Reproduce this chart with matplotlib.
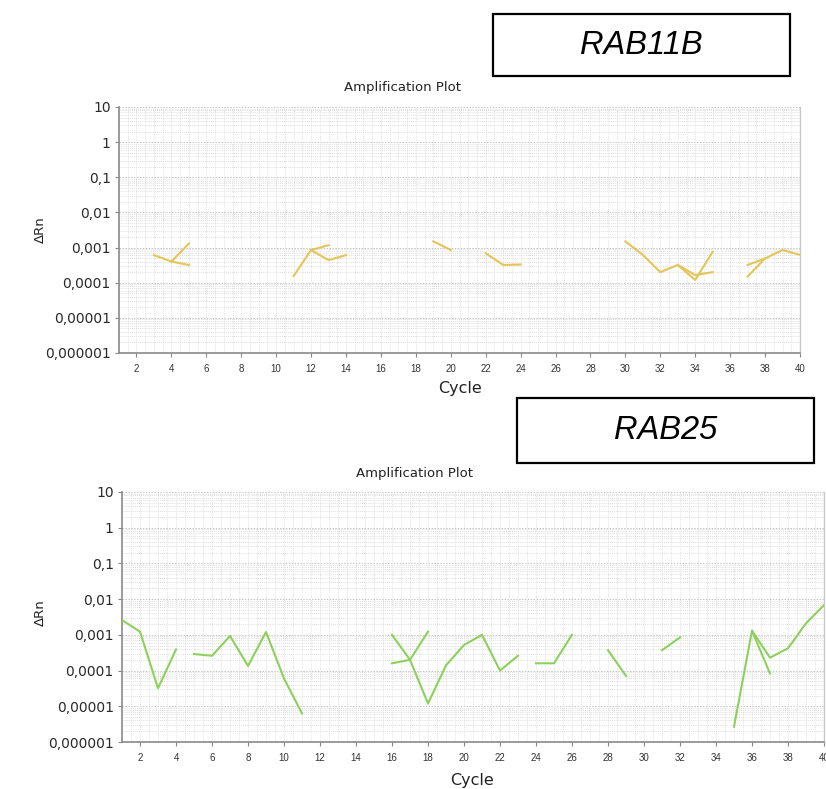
import numpy as np
import matplotlib
matplotlib.use("Agg")
import matplotlib.pyplot as plt
from matplotlib.patches import Rectangle
from matplotlib.ticker import FixedLocator, NullFormatter

# ---- RAB11B traces (cycle, delta Rn); each list pair is one visible trace piece
rab11b_cycles = [
    [3, 4, 5],
    [4, 5],
    [11, 12, 13],
    [12, 13, 14],
    [19, 20],
    [22, 23, 24],
    [30, 31, 32, 33, 34, 35],
    [33, 34, 35],
    [37, 38, 39, 40],
    [37, 38],
]
rab11b_values = [
    [6.1e-4, 4.0e-4, 1.3e-3],
    [4.0e-4, 3.2e-4],
    [1.55e-4, 8.5e-4, 1.17e-3],
    [8.5e-4, 4.4e-4, 6.1e-4],
    [1.5e-3, 8.5e-4],
    [6.9e-4, 3.2e-4, 3.3e-4],
    [1.5e-3, 6.2e-4, 2.0e-4, 3.2e-4, 1.2e-4, 7.6e-4],
    [3.2e-4, 1.65e-4, 2.0e-4],
    [3.2e-4, 4.9e-4, 8.5e-4, 6.2e-4],
    [1.5e-4, 4.9e-4],
]

# ---- RAB25 traces
rab25_cycles = [
    [1, 2, 3, 4],
    [5, 6, 7, 8, 9, 10, 11],
    [16, 17, 18, 19, 20, 21, 22, 23],
    [16, 17, 18],
    [24, 25, 26],
    [28, 29],
    [31, 32],
    [35, 36, 37, 38, 39, 40],
    [36, 37],
]
rab25_values = [
    [2.6e-3, 1.23e-3, 3.2e-5, 3.9e-4],
    [2.9e-4, 2.6e-4, 9.3e-4, 1.35e-4, 1.2e-3, 6.0e-5, 6.3e-6],
    [1.0e-3, 2.0e-4, 1.2e-5, 1.4e-4, 5.2e-4, 1.0e-3, 1.0e-4, 2.6e-4],
    [1.6e-4, 2.0e-4, 1.23e-3],
    [1.6e-4, 1.6e-4, 1.0e-3],
    [3.7e-4, 7.1e-5],
    [3.7e-4, 8.5e-4],
    [2.7e-6, 1.3e-3, 2.3e-4, 4.2e-4, 2.1e-3, 6.8e-3],
    [1.3e-3, 8.3e-5],
]

y_ticks = [1e1, 1e0, 1e-1, 1e-2, 1e-3, 1e-4, 1e-5, 1e-6]
y_tick_labels = ["10", "1", "0,1", "0,01", "0,001", "0,0001", "0,00001", "0,000001"]
x_ticks = list(range(2, 41, 2))

W, H = 826, 789
fig = plt.figure(figsize=(W / 100, H / 100), dpi=100)
fig.patch.set_facecolor("white")


def fx(px):
    return px / W


def fy(py):
    return 1 - py / H


def style_axes(ax):
    ax.set_yscale("log")
    ax.set_xlim(1, 40)
    ax.set_ylim(1e-6, 10)
    # dotted grid: minor log lines and half-cycle verticals
    minor_y = [m * 10.0 ** e for e in range(-6, 1) for m in range(2, 10)]
    for y in minor_y:
        ax.axhline(y, color="#d2d2d2", lw=0.6, ls=(0, (1, 1.5)), zorder=0)
    for y in y_ticks:
        ax.axhline(y, color="#c4c4c4", lw=0.7, ls=(0, (1.5, 1.5)), zorder=0)
    for x in np.arange(1.5, 40, 0.5):
        ax.axvline(x, color="#d8d8d8", lw=0.6, ls=(0, (1, 1.5)), zorder=0)
    ax.yaxis.set_major_locator(FixedLocator(y_ticks))
    ax.yaxis.set_minor_locator(FixedLocator([]))
    ax.yaxis.set_minor_formatter(NullFormatter())
    ax.set_yticklabels(y_tick_labels, fontsize=10, family="DejaVu Sans", color="#2a2a2a")
    ax.set_xticks(x_ticks)
    ax.set_xticklabels([str(t) for t in x_ticks], fontsize=7,
                       family="Liberation Sans", color="#333333")
    ax.tick_params(axis="both", direction="out", length=3, width=0.8, color="#888888")
    ax.tick_params(axis="y", pad=3)
    ax.tick_params(axis="x", pad=5)
    for side in ("left", "bottom"):
        ax.spines[side].set_color("#8a8a8a")
        ax.spines[side].set_linewidth(1.2)
    ax.spines["right"].set_color("#c8c8c8")
    ax.spines["right"].set_linewidth(1.0)
    ax.spines["top"].set_visible(False)
    ax.set_facecolor("white")


# ---- top panel (RAB11B)
ax1 = fig.add_axes([fx(119), fy(353), (800 - 119) / W, (353 - 107) / H])
style_axes(ax1)
for c, v in zip(rab11b_cycles, rab11b_values):
    ax1.plot(c, v, color="#E5C458", lw=1.5, solid_joinstyle="round", zorder=3)

# ---- bottom panel (RAB25)
ax2 = fig.add_axes([fx(122), fy(742), (824 - 122) / W, (742 - 492) / H])
style_axes(ax2)
for c, v in zip(rab25_cycles, rab25_values):
    ax2.plot(c, v, color="#8DD05C", lw=1.5, solid_joinstyle="round", zorder=3)

# titles and axis labels
for (tx, ty) in [(403, 88), (415, 474)]:
    fig.text(fx(tx), fy(ty), "Amplification Plot", ha="center", va="center",
             fontsize=9.5, family="DejaVu Sans", color="#222222")
for (tx, ty) in [(460, 389), (472, 780)]:
    fig.text(fx(tx), fy(ty), "Cycle", ha="center", va="center",
             fontsize=11.5, family="DejaVu Sans", color="#222222")
for (tx, ty) in [(40, 230), (40, 613)]:
    fig.text(fx(tx), fy(ty), "ΔRn", ha="center", va="center", rotation=90,
             fontsize=9.5, family="DejaVu Sans", color="#222222")

# gene name boxes
for (x0, y0, x1, y1, name) in [(493, 14, 790, 76, "RAB11B"),
                               (517, 398, 814, 463, "RAB25")]:
    fig.patches.append(Rectangle((fx(x0), fy(y1)), (x1 - x0) / W, (y1 - y0) / H,
                                 transform=fig.transFigure, fill=False,
                                 ec="black", lw=1.6))
    fig.text(fx((x0 + x1) / 2), fy((y0 + y1) / 2), name, ha="center", va="center",
             fontsize=23.5, style="italic", family="Liberation Sans", color="black")

fig.savefig("out.png", dpi=100, facecolor="white")
